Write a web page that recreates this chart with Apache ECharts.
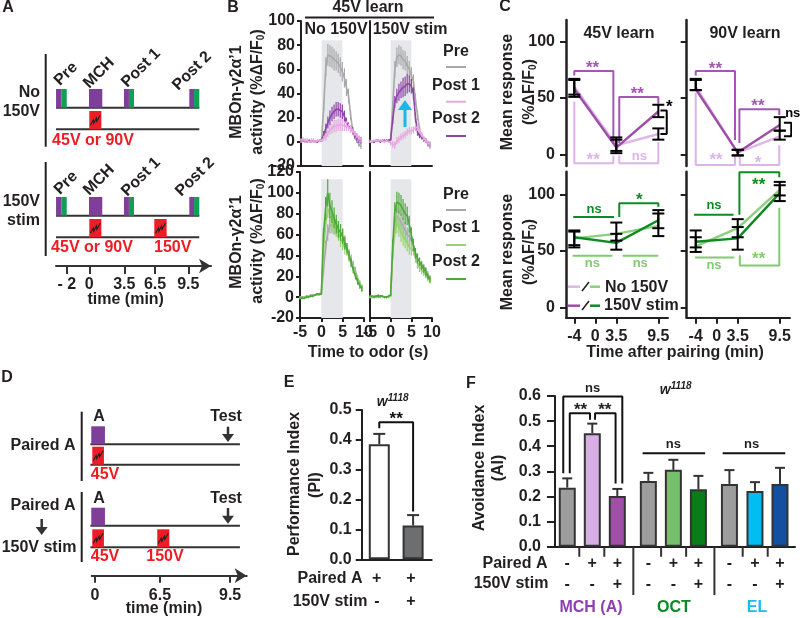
<!DOCTYPE html>
<html><head><meta charset="utf-8">
<style>html,body{margin:0;padding:0;background:#fff}#c{width:800px;height:618px}</style>
<script src="https://cdn.jsdelivr.net/npm/echarts@6/dist/echarts.min.js"></script>
</head><body><div id="c"></div>
<script>
// ---------- DATA ----------
const traceTime = [-5,-4.5,-4,-3.5,-3,-2.5,-2,-1.5,-1,-0.5,0,0.5,1,1.5,2,2.5,3,3.5,4,4.5,5,5.5,6,6.5,7,7.5,8,8.5,9,9.5];
const odorWindow = [0,5];
// Panel B, 45V learn, MCH
const noStimPre   = [1,1,0,1,1,0,1,0,1,1,2,30,62,72,71,70,68,67,65,62,58,53,45,38,22,10,4,1,-2,-4];
const noStimPreE  = [1,1,1,1,1,1,1,1,1,1,1,4,8,9,9,9,9,8,8,8,8,8,7,6,4,3,2,2,2,2];
const noStimPost1 = [1,2,1,1,0,1,1,0,1,1,1,3,4,7,10,11,13,13,14,14,14,13,13,12,11,9,7,5,3,2];
const noStimPost1E= [2,2,2,2,1,2,2,1,1,1,1,2,3,3,4,4,5,5,5,5,5,4,4,3,3,2,2,2,2,2];
const noStimPost2 = [0,1,1,0,1,0,1,0,0,1,1,6,11,16,20,23,25,27,27,26,25,21,16,13,11,9,6,4,2,1];
const noStimPost2E= [1,1,1,1,1,1,1,1,1,1,1,3,4,5,6,6,6,6,6,6,6,5,4,3,3,3,3,3,3,3];
const stimPre     = [1,0,0,1,1,1,1,0,1,1,2,30,60,70,72,71,68,67,63,60,55,50,35,22,10,5,2,1,-2,-4];
const stimPreE    = [1,1,1,1,1,1,1,1,1,1,1,4,7,8,8,8,8,8,8,7,7,6,5,4,3,2,2,2,2,2];
const stimPost1   = [0,0,1,1,1,1,1,0,1,0,-1,-2,-3,1,2,4,5,6,8,9,9,10,12,12,9,6,3,1,-1,-2];
const stimPost1E  = [1,1,1,1,1,1,1,1,1,1,2,3,3,3,3,3,3,3,3,3,3,3,3,3,2,2,2,2,2,2];
const stimPost2   = [0,0,0,1,1,0,1,1,1,1,2,18,33,38,41,43,45,46,48,48,46,40,20,8,5,4,2,1,-1,-2];
const stimPost2E  = [1,1,1,1,1,1,1,1,1,1,1,3,5,6,7,7,8,8,8,7,6,5,4,3,2,2,2,2,2,2];
// Panel B, OCT
const octNoPre    = [0,0,0,1,1,2,2,2,3,3,3,25,48,62,69,69,68,67,65,62,58,52,46,40,35,30,25,18,13,9];
const octNoPreE   = [1,1,1,1,1,1,1,1,1,1,1,4,6,8,8,8,8,8,8,8,8,7,6,6,6,5,4,3,3,3];
const octNoPost1  = [-1,-1,0,0,1,1,1,2,2,2,3,45,70,85,78,72,68,66,62,56,52,47,45,40,34,27,22,16,13,9];
const octNoPost1E = [1,1,1,1,1,1,1,1,1,1,1,6,8,9,9,9,8,8,8,8,7,6,5,5,4,4,3,3,3,3];
const octNoPost2  = [-1,-1,-1,0,0,1,1,2,3,3,3,60,85,100,88,82,76,70,65,62,58,52,47,40,33,26,20,15,11,8];
const octNoPost2E = [1,1,1,1,1,1,1,1,1,1,1,6,11,13,12,11,10,9,8,8,7,6,5,4,4,3,3,3,3,3];
const octStPre    = [0,0,1,1,2,1,1,0,0,1,2,42,68,78,75,72,68,64,60,58,55,50,42,33,28,31,29,26,22,18];
const octStPreE   = [1,1,1,1,1,1,1,1,1,1,1,5,7,8,8,8,8,8,7,7,6,5,5,5,4,4,3,3,3,3];
const octStPost1  = [0,0,0,0,0,0,1,0,0,0,1,45,65,70,67,62,58,55,52,48,46,45,38,32,30,26,24,21,18,16];
const octStPost1E = [1,1,1,1,1,1,1,1,1,1,1,6,8,9,9,9,9,8,8,7,6,5,5,5,4,4,4,3,3,3];
const octStPost2  = [1,1,0,1,1,1,1,0,0,1,2,50,82,91,90,88,84,80,78,70,60,50,42,37,34,30,27,24,20,17];
const octStPost2E = [1,1,1,1,1,1,1,1,1,1,1,6,9,10,10,10,10,10,9,8,7,6,5,5,4,4,4,4,3,3];
// Panel C: [time slot, mean, low, high]
const cLabels = ['-4','0','3.5','9.5'];
const cSlots  = [0,1,2,4];
const c45No   = [60,8,18];    const c45NoLo=[53,3,13];  const c45NoHi=[67,13,23];
const c45St   = [58,6,38];    const c45StLo=[51,1,33];  const c45StHi=[66,15,44];
const c90No   = [60,1.5,16];  const c90NoLo=[57,-1,13]; const c90NoHi=[67,4,21];
const c90St   = [58,1.5,26];  const c90StLo=[57,-1,21]; const c90StHi=[66,4,33];
const o45No   = [61,65,72];   const o45NoLo=[55,59,63]; const o45NoHi=[67,75,83];
const o45St   = [62,57,77];   const o45StLo=[53,51,70]; const o45StHi=[68,65,86];
const o90No   = [54,70,104];  const o90NoLo=[49,62,94]; const o90NoHi=[62,78,111];
const o90St   = [58,61,101];  const o90StLo=[53,51,99]; const o90StHi=[68,71,108];
// Panel E
const eSlots  = [0,1];
const eValues = [0.385,0.113];
const eErrors = [0.035,0.035];
// Panel F
const fSlots  = [0,1,2,3.24,4.24,5.24,6.48,7.5,8.5];
const fValues = [0.235,0.452,0.202,0.262,0.306,0.229,0.25,0.222,0.25];
const fTops   = [0.272,0.49,0.23,0.294,0.346,0.282,0.305,0.257,0.314];
const fColors = ['#9d9d9d','#d7aee6','#a04fa8','#9d9d9d','#74c06c','#0a7d1a','#9d9d9d','#00bdf2','#1450a0'];
const fPaired = ['-','+','+','-','+','+','-','+','+'];
const fStim   = ['-','-','+','-','-','+','-','-','+'];
// Schematics (minutes on the drawn axis)
const aTickPos = [-2.19,0,3.4,6.38,9.61];
const aTickLab = ['- 2','0','3.5','6.5','9.5'];
const aPurple = [[-3.23,-2.72],[-0.03,1.26],[3.37,3.85],[9.71,10.17]];
const aGreen  = [[-2.72,-2.19],[3.85,4.34],[10.17,10.68]];
const aShock1 = [[0,1.17]];
const aShock2 = [[0,1.17],[6.31,7.51]];
const dTickPos = [0.12,4.63,9.5];
const dTickLab = ['0','6.5','9.5'];
const dOdor = [[-0.14,0.81]];
const dShock1 = [[-0.07,0.74]];
const dShock2 = [[-0.07,0.74],[4.44,5.28]];

// ---------- STYLE ----------
const FF = '"Liberation Sans",Arial,sans-serif';
const INK = '#231f20';
const GRAY='#a8a8a8',PINK='#e6a9e2',PURP='#8e44a8',LG='#96d46e',DG='#4ea83a';
const cPink='#dfb5ea',cPurp='#9d4fa8',cLG='#8ccf7e',cDG='#0f8a22';
const brPurp='#a455b5',brPink='#dcb4ea',brDG='#0f8a22',brLG='#80cc70';
const RED='#ee1c25',OP='#7f3f98',OG='#0fa055';
const axisLine = (w)=>({show:true,onZero:false,lineStyle:{color:INK,width:w||2}});
const lab = (m,extra)=>Object.assign({show:true,margin:m,color:INK,fontFamily:FF,fontWeight:'bold',fontSize:16},extra||{});

const grids=[],xAxes=[],yAxes=[],series=[];
function addGrid(l,t,w,h,x,y){grids.push({left:l,top:t,width:w,height:h});const i=grids.length-1;
  xAxes.push(Object.assign({gridIndex:i,splitLine:{show:false}},x));
  yAxes.push(Object.assign({gridIndex:i,splitLine:{show:false}},y));return i;}

// panel A
const gA=addGrid(56,86,155,180,{type:'value',min:-3.233,max:11.816,
  axisLine:{show:true,lineStyle:{color:'#333',width:2},symbol:['none','arrow'],symbolSize:[11,12]},
  axisTick:{show:true,length:8,customValues:aTickPos,lineStyle:{color:'#333',width:2}},
  axisLabel:lab(11,{customValues:aTickPos,formatter:v=>aTickLab[aTickPos.indexOf(v)]})},
  {type:'value',min:0,max:180,show:false});
// panel B
function bY(min,max,showL){return {type:'value',min,max,interval:20,axisLine:axisLine(2),
  axisTick:{show:showL,length:4,lineStyle:{color:INK,width:2}},axisLabel:showL?lab(6):{show:false}};}
function bX(showL){return {type:'value',min:-5,max:10,interval:5,axisLine:axisLine(2),
  axisTick:{show:showL,length:4,lineStyle:{color:INK,width:2}},axisLabel:showL?lab(7):{show:false}};}
const gB1=addGrid(301,21,62,145,bX(false),bY(-20,100,true));
const gB2=addGrid(370,21,62,145,bX(false),bY(-20,100,false));
const gB3=addGrid(300,172,64,146,bX(true),bY(-20,120,true));
const gB4=addGrid(370,172,62,146,bX(true),bY(-20,120,false));
// panel C
function cY(min,max,showL){return {type:'value',min,max,axisLine:axisLine(2.5),
  axisTick:{show:true,customValues:[0,50,100],length:6,lineStyle:{color:INK,width:2}},
  axisLabel:showL?lab(11,{customValues:[0,50,100]}):{show:false}};}
function cX(min,max,showL){return {type:'value',min,max,
  axisLine:showL?axisLine(2):{show:false},
  axisTick:showL?{show:true,customValues:cSlots,length:6,lineStyle:{color:INK,width:2}}:{show:false},
  axisLabel:showL?lab(11,{customValues:cSlots,formatter:v=>cLabels[cSlots.indexOf(v)]}):{show:false}};}
const gC1=addGrid(566,20,102,146,cX(-0.395,4.46,false),cY(-10.4,119.3,true));
const gC2=addGrid(686.7,20,103.3,146,cX(-0.43,4.49,false),cY(-10.4,119.3,false));
const gC3=addGrid(566,171.7,102,146,cX(-0.395,4.46,true),cY(-9.2,120,true));
const gC4=addGrid(686.7,171.7,103.3,146,cX(-0.43,4.49,true),cY(-9.2,120,false));
// panel D
const gD=addGrid(91.7,410,155,165.7,{type:'value',min:-0.11,max:10.65,
  axisLine:{show:true,lineStyle:{color:'#333',width:2},symbol:['none','arrow'],symbolSize:[11,12]},
  axisTick:{show:true,length:7,customValues:dTickPos,lineStyle:{color:'#333',width:2}},
  axisLabel:lab(12,{customValues:dTickPos,formatter:v=>dTickLab[dTickPos.indexOf(v)]})},
  {type:'value',min:0,max:165.7,show:false});
// panel E
const gE=addGrid(361.7,410,70,149.3,{type:'value',min:-0.52,max:1.55,axisLine:axisLine(2),axisTick:{show:false},axisLabel:{show:false}},
  {type:'value',min:0,max:0.5,interval:0.1,axisLine:axisLine(2),axisTick:{show:true,length:6,lineStyle:{color:INK,width:2}},
   axisLabel:lab(10,{formatter:v=>v.toFixed(1)})});
// panel F
const gF=addGrid(555,396,240,150.7,{type:'value',min:-0.49,max:9.1,axisLine:axisLine(2),axisTick:{show:false},axisLabel:{show:false}},
  {type:'value',min:0,max:0.6,interval:0.1,axisLine:axisLine(2),axisTick:{show:true,length:8,lineStyle:{color:INK,width:2}},
   axisLabel:lab(14,{formatter:v=>v.toFixed(1)})});

// ---------- SERIES HELPERS ----------
function line(g,pts,color,w,z){series.push({type:'line',xAxisIndex:g,yAxisIndex:g,data:pts,showSymbol:false,symbol:'none',clip:false,silent:true,
  lineStyle:{color:color,width:w||2},z:z||5,animation:false});}
function notes(g,items){series.push({type:'custom',xAxisIndex:g,yAxisIndex:g,coordinateSystem:'cartesian2d',silent:true,z:8,
  data:items.map(n=>[n[0],n[1]]),encode:{x:0,y:1},
  renderItem:(p,api)=>{const n=items[p.dataIndex];const c=api.coord([api.value(0),api.value(1)]);
    const isStar=/^\*+$/.test(n[2]),isNs=n[2]==='ns';
    return {type:'text',style:{text:n[2],x:c[0],y:c[1]+(isStar?3:0),fill:n[3]||INK,font:'bold '+(isStar?17:isNs?13:16)+'px '+FF,
      align:'center',verticalAlign:'middle',textAlign:'center',textVerticalAlign:'middle'}};}});}
function rects(g,list,y0,y1,color,bolt){series.push({type:'custom',xAxisIndex:g,yAxisIndex:g,silent:true,z:4,
  data:list.map(r=>[r[0],r[1]]),encode:{x:[0,1]},
  renderItem:(p,api)=>{const a=api.coord([api.value(0),y0]),b=api.coord([api.value(1),y1]);
    const ch=[{type:'rect',shape:{x:a[0],y:b[1],width:b[0]-a[0],height:a[1]-b[1]},style:{fill:color}}];
    if(bolt){const cx=(a[0]+b[0])/2,cy=(a[1]+b[1])/2;
      ch.push({type:'polyline',shape:{points:[[cx-5,cy+5],[cx-2,cy],[cx-1.5,cy+3],[cx+1,cy-2],[cx+1.5,cy+1],[cx+5,cy-5]]},style:{stroke:'#222',fill:null,lineWidth:1.2}});}
    return {type:'group',children:ch};}});}
function band(g,top,bottom){series.push({type:'custom',xAxisIndex:g,yAxisIndex:g,silent:true,z:1,
  data:[[odorWindow[0],odorWindow[1]]],encode:{x:[0,1]},
  renderItem:(p,api)=>{const a=api.coord([api.value(0),bottom]),b=api.coord([api.value(1),top]);
    return {type:'rect',shape:{x:a[0],y:b[1],width:b[0]-a[0],height:a[1]-b[1]},style:{fill:'#e5e7ea'}};}});}
function trace(g,vals,errs,color,z){
  series.push({type:'custom',xAxisIndex:g,yAxisIndex:g,silent:true,z:z,
    data:traceTime.map((t,i)=>[t,vals[i],errs[i]]),encode:{x:0,y:1},
    renderItem:(p,api)=>{const x=api.value(0),v=api.value(1),e=api.value(2);const a=api.coord([x,v-e]),b=api.coord([x,v+e]);
      return {type:'line',shape:{x1:a[0],y1:a[1],x2:b[0],y2:b[1]},style:{stroke:color,lineWidth:1.2}};}});
  series.push({type:'line',xAxisIndex:g,yAxisIndex:g,data:traceTime.map((t,i)=>[t,vals[i]]),showSymbol:false,symbol:'none',silent:true,
    lineStyle:{color:color,width:1.6},z:z});
}
function cSeries(g,means,color,z){line(g,[0,2,4].map((s,i)=>[s,means[i]]),color,2.4,z);}
function cErr(g,lo,hi){series.push({type:'custom',xAxisIndex:g,yAxisIndex:g,silent:true,z:7,
  data:[0,2,4].map((s,i)=>[s,lo[i],hi[i]]),encode:{x:0,y:[1,2]},
  renderItem:(p,api)=>{const x=api.value(0);const a=api.coord([x,api.value(1)]),b=api.coord([x,api.value(2)]);const s={stroke:'#000',lineWidth:2};
    return {type:'group',children:[
      {type:'line',shape:{x1:a[0],y1:a[1],x2:b[0],y2:b[1]},style:s},
      {type:'line',shape:{x1:a[0]-6,y1:a[1],x2:a[0]+6,y2:a[1]},style:s},
      {type:'line',shape:{x1:a[0]-6,y1:b[1],x2:a[0]+6,y2:b[1]},style:s}]};}});}

// ---------- SCHEMATIC A ----------
[[158.3,136.7,aShock1],[50.3,28.7,aShock2]].forEach(r=>{
  line(gA,[[-3.23,r[0]],[10.68,r[0]]],'#333',2,3);
  line(gA,[[-3.23,r[1]],[10.68,r[1]]],'#333',2,3);
  rects(gA,aPurple,r[0],r[0]+18.7,OP);
  rects(gA,aGreen,r[0],r[0]+18.7,OG);
  rects(gA,r[2],r[1],r[1]+18.3,RED,true);
});
// ---------- TRACES B ----------
band(gB1,84,-20);band(gB2,84,-20);band(gB3,113,-20);band(gB4,113,-20);
trace(gB1,noStimPre,noStimPreE,GRAY,2);trace(gB1,noStimPost1,noStimPost1E,PINK,4);trace(gB1,noStimPost2,noStimPost2E,PURP,3);
trace(gB2,stimPre,stimPreE,GRAY,2);trace(gB2,stimPost1,stimPost1E,PINK,4);trace(gB2,stimPost2,stimPost2E,PURP,3);
trace(gB3,octNoPre,octNoPreE,GRAY,2);trace(gB3,octNoPost1,octNoPost1E,LG,3);trace(gB3,octNoPost2,octNoPost2E,DG,4);
trace(gB4,octStPre,octStPreE,GRAY,2);trace(gB4,octStPost1,octStPost1E,LG,3);trace(gB4,octStPost2,octStPost2E,DG,4);
// ---------- PANEL C ----------
cSeries(gC1,c45No,cPink,5);cSeries(gC1,c45St,cPurp,6);cErr(gC1,c45NoLo,c45NoHi);cErr(gC1,c45StLo,c45StHi);
cSeries(gC2,c90No,cPink,5);cSeries(gC2,c90St,cPurp,6);cErr(gC2,c90NoLo,c90NoHi);cErr(gC2,c90StLo,c90StHi);
cSeries(gC3,o45No,cLG,5);cSeries(gC3,o45St,cDG,6);cErr(gC3,o45NoLo,o45NoHi);cErr(gC3,o45StLo,o45StHi);
cSeries(gC4,o90No,cLG,5);cSeries(gC4,o90St,cDG,6);cErr(gC4,o90NoLo,o90NoHi);cErr(gC4,o90StLo,o90StHi);
// brackets, in axis units
line(gC1,[[0,70],[0,74],[1.86,74],[1.86,11]],brPurp);line(gC1,[[2.14,10],[2.14,51],[4,51],[4,45]],brPurp);
line(gC1,[[0,47],[0,-8],[1.86,-8],[1.86,-1]],brPink);line(gC1,[[2.14,-1],[2.14,-8],[4,-8],[4,11]],brPink);
line(gC1,[[4.1,39],[4.4,39],[4.4,18],[4.1,18]],'#000');
notes(gC1,[[0.87,79,'**',brPurp],[3,55.6,'**',brPurp],[0.9,-3,'**',brPink],[3.1,-1.5,'ns',brPink],[4.52,44,'*','#000']]);
line(gC2,[[0,70],[0,74],[1.87,74],[1.87,12.7]],brPurp);line(gC2,[[2.08,10],[2.08,40],[3.98,40],[3.98,35]],brPurp);
line(gC2,[[0,55],[0,-9.5],[1.87,-9.5],[1.87,-2]],brPink);line(gC2,[[2.1,-2],[2.1,-9.5],[3.98,-9.5],[3.98,8]],brPink);
line(gC2,[[4.2,28],[4.55,28],[4.55,16],[4.2,16]],'#000');
notes(gC2,[[0.94,78,'**',brPurp],[2.96,45,'**',brPurp],[0.97,-3,'**',brPink],[2.97,-5,'*',brPink],[4.62,36,'ns','#000']]);
line(gC3,[[-0.05,80],[1.89,80]],brDG);line(gC3,[[2.14,80],[2.14,92],[4,92],[4,89]],brDG);
line(gC3,[[-0.08,45.7],[1.81,45.7]],brLG);line(gC3,[[2.3,45.7],[4,45.7]],brLG);
notes(gC3,[[0.94,86.5,'ns',brDG],[3.09,97,'*',brDG],[0.86,39,'ns',brLG],[3.14,39,'ns',brLG]]);
line(gC4,[[-0.08,82],[1.8,82]],brDG);line(gC4,[[2.08,82],[2.08,119.5],[3.98,119.5],[3.98,115]],brDG);
line(gC4,[[-0.03,44],[1.84,44]],brLG);line(gC4,[[2.1,46],[2.1,37],[3.98,37],[3.98,88]],brLG);
notes(gC4,[[0.87,90,'ns',brDG],[3,111,'**',brDG],[0.87,37.5,'ns',brLG],[3,45,'**',brLG]]);
// ---------- SCHEMATIC D ----------
[[131.4,111,dShock1],[50,28.4,dShock2]].forEach(r=>{
  line(gD,[[-0.2,r[0]],[10.18,r[0]]],'#333',2,3);
  line(gD,[[-0.2,r[1]],[10.18,r[1]]],'#333',2,3);
  rects(gD,dOdor,r[0],r[0]+18,OP);
  rects(gD,r[2],r[1],r[1]+18,RED,true);
});
// ---------- PANEL E ----------
series.push({type:'bar',xAxisIndex:gE,yAxisIndex:gE,barWidth:21,silent:true,z:3,
  data:eSlots.map((s,i)=>({value:[s,eValues[i]],itemStyle:{color:i?'#6d6e70':'#fff',borderColor:'#333',borderWidth:2}}))});
series.push({type:'custom',xAxisIndex:gE,yAxisIndex:gE,silent:true,z:2,data:eSlots.map((s,i)=>[s,eValues[i],eValues[i]+eErrors[i]]),encode:{x:0,y:[1,2]},
  renderItem:(p,api)=>{const a=api.coord([api.value(0),api.value(1)]),b=api.coord([api.value(0),api.value(2)]);const s={stroke:'#333',lineWidth:2};
    return {type:'group',children:[{type:'line',shape:{x1:a[0],y1:a[1],x2:b[0],y2:b[1]},style:s},{type:'line',shape:{x1:b[0]-6,y1:b[1],x2:b[0]+6,y2:b[1]},style:s}]};}});
line(gE,[[0,0.439],[0,0.459],[1,0.459],[1,0.16]],'#111');
notes(gE,[[0.5,0.478,'**','#111']]);
// ---------- PANEL F ----------
series.push({type:'bar',xAxisIndex:gF,yAxisIndex:gF,barWidth:17,silent:true,z:3,
  data:fSlots.map((s,i)=>({value:[s,fValues[i]],itemStyle:{color:fColors[i],borderColor:'#333',borderWidth:2}}))});
series.push({type:'custom',xAxisIndex:gF,yAxisIndex:gF,silent:true,z:2,data:fSlots.map((s,i)=>[s,fValues[i],fTops[i]]),encode:{x:0,y:[1,2]},
  renderItem:(p,api)=>{const a=api.coord([api.value(0),api.value(1)]),b=api.coord([api.value(0),api.value(2)]);const s={stroke:'#333',lineWidth:2};
    return {type:'group',children:[{type:'line',shape:{x1:a[0],y1:a[1],x2:b[0],y2:b[1]},style:s},{type:'line',shape:{x1:b[0]-5,y1:b[1],x2:b[0]+5,y2:b[1]},style:s}]};}});
[0.48,1.48,3.75,4.75,7.01,8.01].forEach(x=>line(gF,[[x,0],[x,-0.04]],'#333',2,3));
[2.64,5.88].forEach(x=>line(gF,[[x,0],[x,-0.192]],'#333',2,3));
line(gF,[[-0.16,0.292],[-0.16,0.598],[2.2,0.598],[2.2,0.252]],'#111');
line(gF,[[0.1,0.292],[0.1,0.531],[0.91,0.531],[0.91,0.505]],'#111');
line(gF,[[1.11,0.505],[1.11,0.531],[1.93,0.531],[1.93,0.252]],'#111');
line(gF,[[3.01,0.372],[5.51,0.372]],'#111');line(gF,[[6.21,0.372],[8.71,0.372]],'#111');
notes(gF,[[1.01,0.63,'ns'],[0.53,0.555,'**'],[1.5,0.555,'**'],[4.24,0.408,'ns'],[7.37,0.408,'ns']]
  .concat(fSlots.map((s,i)=>[s,-0.069,fPaired[i]])).concat(fSlots.map((s,i)=>[s,-0.149,fStim[i]])));

// ---------- TEXT & DECORATION ----------
const g=[];
function T(x,y,text,o){o=o||{};const sz=o.size||16;
  const style={text,x:0,y:0,fill:o.color||INK,font:(o.italic?'italic ':'')+'bold '+sz+'px '+FF,
    textAlign:o.align||'center',textVerticalAlign:'middle',align:o.align||'center',verticalAlign:'middle'};
  if(o.rich)style.rich=o.rich;
  g.push({type:'text',x,y,rotation:o.rot||0,silent:true,z:20,style});}
function L(x1,y1,x2,y2,c,w){g.push({type:'line',silent:true,z:20,shape:{x1,y1,x2,y2},style:{stroke:c||INK,lineWidth:w||2}});}
function tri(pts,c){g.push({type:'polygon',silent:true,z:21,shape:{points:pts},style:{fill:c}});}
function downArrow(x,y0,y1){L(x,y0,x,y1-7,'#333',2.5);tri([[x-6,y1-8],[x+6,y1-8],[x,y1]],'#333');}
const V=Math.PI/2,subRich={a:{font:'bold 16px '+FF,fill:INK},s:{font:'bold 10px '+FF,fill:INK,padding:[7,0,0,0]}};
// letters
T(8,8,'A');T(233,8,'B');T(505,7,'C');T(7,378,'D');T(289,383,'E');T(471,384,'F');
// A text
L(45.7,54,45.7,146.7);L(45.7,162,45.7,256);
T(40,92.7,'No',{align:'right'});T(40,111.7,'150V',{align:'right'});T(40,201.7,'150V',{align:'right'});T(40,220.7,'stim',{align:'right'});
[[66,74,'Pre'],[99,73,'MCH'],[141,68,'Post 1'],[192,71,'Post 2'],[66,183,'Pre'],[99,180,'MCH'],[141,177,'Post 1'],[195,177,'Post 2']]
  .forEach(r=>T(r[0],r[1],r[2],{rot:Math.PI/4}));
T(93,141,'45V or 90V',{color:RED});T(92,248,'45V or 90V',{color:RED});T(172.7,248,'150V',{color:RED});
T(125.7,300,'time (min)');
// B text
L(305,17.5,434,17.5,INK,2);
T(368,8,'45V learn');T(336,30,'No 150V');T(410,30,'150V stim');
[[52,67,86,101.7,119,136,PINK,PURP],[195,210,228,245,262,279,LG,DG]].forEach(r=>{
  T(456,r[0],'Pre');L(446,r[1],466,r[1],GRAY,2);
  T(456,r[2],'Post 1');L(446,r[3],466,r[3],r[6],2);
  T(456,r[4],'Post 2');L(446,r[5],466,r[5],r[7],2);
});
T(237,92,'MBOn-γ2α’1',{rot:V});T(258,92,'{a|activity (%ΔF/F}{s|0}{a|)}',{rot:V,rich:subRich});
T(237,242,'MBOn-γ2α’1',{rot:V});T(258,241,'{a|activity (%ΔF/F}{s|0}{a|)}',{rot:V,rich:subRich});
T(368,353,'Time to odor (s)');
L(405,127,405,108,'#19b8e8',3);tri([[398,110],[412,110],[405,100]],'#19b8e8');
// C text
T(619,34,'45V learn');T(745,34,'90V learn');
T(508,92,'Mean response',{rot:V});T(530,92,'{a|(%ΔF/F}{s|0}{a|)}',{rot:V,rich:subRich});
T(508,252,'Mean response',{rot:V});T(530,252,'{a|(%ΔF/F}{s|0}{a|)}',{rot:V,rich:subRich});
T(675,353,'Time after pairing (min)');
L(568,286.7,580,286.7,cPink,2.5);L(582,291,589,282,INK,1.5);L(590,286.7,600,286.7,cLG,2.5);T(605,287.7,'No 150V',{align:'left'});
L(568,305.7,580,305.7,cPurp,2.5);L(582,310,589,301,INK,1.5);L(590,305.7,600,305.7,cDG,2.5);T(604,306,'150V stim',{align:'left'});
// D text
L(81.7,411.7,81.7,481);L(81.7,492,81.7,562);
T(99,417,'A');T(226,417,'Test');downArrow(228,426.7,442);
T(99,499,'A');T(226,499,'Test');downArrow(228,508,523.7);
T(43,446,'Paired A');T(43,506,'Paired A');downArrow(41.7,519,535);T(39,547.7,'150V stim');
T(105,475,'45V',{color:RED});T(105,557,'45V',{color:RED});T(165,557,'150V',{color:RED});
T(164,609,'time (min)');
// E text
T(295,484,'Performance Index',{rot:V});T(315.7,485,'(PI)',{rot:V});
const wRich={i:{font:'italic bold 14px '+FF,fill:INK},u:{font:'italic bold 10px '+FF,fill:INK,padding:[0,0,7,0]}};
T(392.7,402,'{i|w}{u|1118}',{rich:wRich});
T(330,579,'Paired A');T(376.7,579,'+');T(411,579,'+');
T(330,601.7,'150V stim');T(377,601.7,'-');T(411,601.7,'+');
// F text
T(480,468,'Avoidance Index',{rot:V});T(499,468,'(AI)',{rot:V});
T(675.7,389.7,'{i|w}{u|1118}',{rich:wRich});
T(515,564,'Paired A');T(511,584,'150V stim');
T(591,607.7,'MCH (A)',{color:'#8e3fb0'});T(674,607.7,'OCT',{color:'#0a8a20'});T(757,607.7,'EL',{color:'#19bdf0'});

const chart=echarts.init(document.getElementById('c'),null,{renderer:'canvas'});
chart.setOption({animation:false,backgroundColor:'#fff',tooltip:{show:false},legend:{show:false},
  grid:grids,xAxis:xAxes,yAxis:yAxes,series,graphic:{elements:g}});
</script></body></html>
